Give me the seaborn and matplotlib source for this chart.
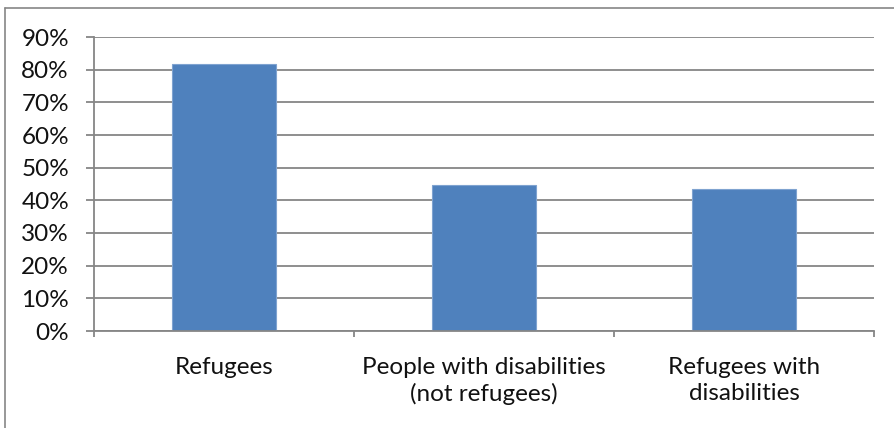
import matplotlib
matplotlib.use("Agg")
import matplotlib.pyplot as plt
from matplotlib.lines import Line2D
from matplotlib.ticker import PercentFormatter, FixedLocator
import seaborn as sns
import pandas as pd

categories = ["Refugees", "People with disabilities\n(not refugees)", "Refugees with\ndisabilities"]
shares = [0.817, 0.446, 0.435]
y_ticks = [0.0, 0.1, 0.2, 0.3, 0.4, 0.5, 0.6, 0.7, 0.8, 0.9]

sns.set_theme(style="white")
plt.rcParams["font.family"] = ["Lato", "DejaVu Sans"]

W, H = 894, 428
fig = plt.figure(figsize=(W / 100, H / 100), dpi=100)
ax = fig.add_axes([94 / W, 1 - 331 / H, (874 - 94) / W, (331 - 37) / H])

df = pd.DataFrame({"group": categories, "share": shares})
sns.barplot(data=df, x="group", y="share", ax=ax, color="#4F81BD",
            saturation=1, width=0.4, edgecolor="#7FA3D0", linewidth=0.8, zorder=3)

grid_col = "#868686"
ax.set_ylim(0, 0.9)
ax.set_xlim(-0.5, 2.5)
ax.yaxis.set_major_locator(FixedLocator(y_ticks))
ax.yaxis.set_major_formatter(PercentFormatter(1.0, decimals=0))
ax.grid(axis="y", color=grid_col, linewidth=1.3, zorder=0)
ax.set_axisbelow(True)

for side in ("top", "right"):
    ax.spines[side].set_visible(False)
for side in ("left", "bottom"):
    ax.spines[side].set_color(grid_col)
    ax.spines[side].set_linewidth(1.3)
    ax.spines[side].set_zorder(4)

ax.set_xlabel("")
ax.set_ylabel("")
ax.tick_params(axis="y", direction="out", length=6, width=1.3, color=grid_col,
               labelsize=17.5, labelcolor="#111111", pad=12, left=True)
ax.tick_params(axis="x", which="major", length=0, labelsize=17.5,
               labelcolor="#111111", pad=18.5)
ax.xaxis.set_minor_locator(FixedLocator([-0.5, 0.5, 1.5, 2.5]))
ax.tick_params(axis="x", which="minor", direction="out", length=4, width=1.3,
               color=grid_col, bottom=True)
for lbl in ax.get_xticklabels():
    lbl.set_linespacing(1.29)

# chart-area border (left and top edges)
border = dict(color="#868686", linewidth=1.2, transform=None)
fig.add_artist(Line2D([5, W], [H - 8, H - 8], **border))
fig.add_artist(Line2D([5, 5], [0, H - 8], **border))

fig.savefig("out.png", dpi=100)
